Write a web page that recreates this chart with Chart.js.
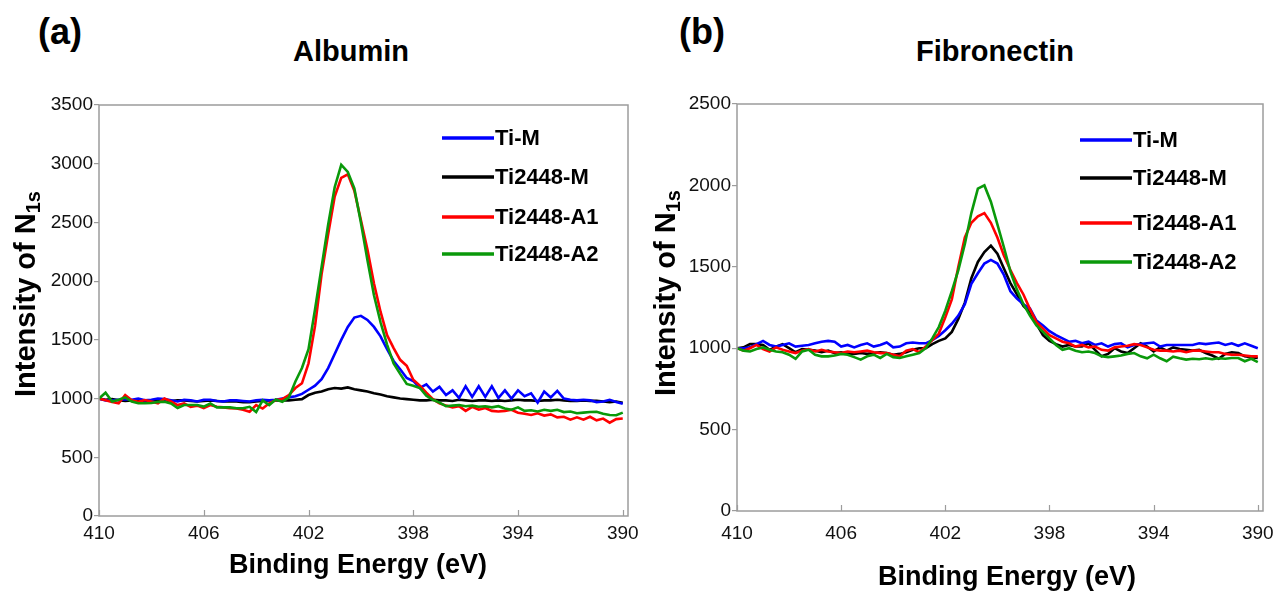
<!DOCTYPE html>
<html>
<head>
<meta charset="utf-8">
<script src="https://cdn.jsdelivr.net/npm/chart.js@4.4.1/dist/chart.umd.min.js"></script>
<style>
  body { margin: 0; background: #fff; width: 1277px; height: 592px; overflow: hidden; position: relative; font-family: 'Liberation Sans', Arial, sans-serif; }
  canvas { position: absolute; top: 0; }
  .lbl { position: absolute; font-weight: bold; color: #000; white-space: nowrap; line-height: 1; }
</style>
</head>
<body>
<div class="lbl" style="left:38px; top:14px; font-size:36px;">(a)</div>
<div class="lbl" style="left:351px; top:37px; font-size:29px; transform:translateX(-50%);">Albumin</div>
<div class="lbl" style="left:679px; top:14px; font-size:36px;">(b)</div>
<div class="lbl" style="left:995px; top:37px; font-size:29px; transform:translateX(-50%);">Fibronectin</div>
<canvas id="albumin" width="640" height="592" style="left:0"></canvas>
<canvas id="fibronectin" width="637" height="592" style="left:640px"></canvas>
<script>
// Energía de enlace (eV), paso de 0.25
const energies = [410, 409.75, 409.5, 409.25, 409, 408.75, 408.5, 408.25, 408, 407.75,
  407.5, 407.25, 407, 406.75, 406.5, 406.25, 406, 405.75, 405.5, 405.25,
  405, 404.75, 404.5, 404.25, 404, 403.75, 403.5, 403.25, 403, 402.75,
  402.5, 402.25, 402, 401.75, 401.5, 401.25, 401, 400.75, 400.5, 400.25,
  400, 399.75, 399.5, 399.25, 399, 398.75, 398.5, 398.25, 398, 397.75,
  397.5, 397.25, 397, 396.75, 396.5, 396.25, 396, 395.75, 395.5, 395.25,
  395, 394.75, 394.5, 394.25, 394, 393.75, 393.5, 393.25, 393, 392.75,
  392.5, 392.25, 392, 391.75, 391.5, 391.25, 391, 390.75, 390.5, 390.25, 390];

const seriesNames = ['Ti-M', 'Ti2448-M', 'Ti2448-A1', 'Ti2448-A2'];
const seriesColors = ['#0000ff', '#000000', '#ff0000', '#0a990a'];
const drawOrder = [3, 4, 2, 1];

const xTicks = [410, 406, 402, 398, 394, 390];
const yTicksAlbumin = [0, 500, 1000, 1500, 2000, 2500, 3000, 3500];
const yTicksFibronectin = [0, 500, 1000, 1500, 2000, 2500];

// Albumin (a)
const albuminTiM = [1000, 985, 985, 990, 995, 990, 1000, 985, 990, 1000,
  995, 985, 975, 990, 985, 975, 990, 990, 980, 975,
  985, 985, 980, 975, 985, 990, 985, 990, 1000, 1010,
  1020, 1040, 1075, 1110, 1165, 1260, 1380, 1500, 1610, 1690,
  1705, 1670, 1610, 1530, 1420, 1320, 1250, 1175, 1150, 1090,
  1120, 1060, 1100, 1030, 1070, 1005, 1105, 1015, 1105, 1015,
  1105, 1005, 1070, 1000, 1070, 1020, 1045, 965, 1060, 1010,
  1065, 1000, 990, 985, 990, 985, 970, 975, 990, 970, 955];
const albuminTi2448M = [1000, 990, 995, 985, 980, 985, 985, 980, 985, 980,
  985, 980, 985, 985, 980, 975, 980, 985, 980, 975,
  975, 975, 970, 970, 975, 980, 985, 985, 985, 985,
  990, 995, 1030, 1050, 1060, 1080, 1090, 1085, 1095, 1080,
  1070, 1060, 1045, 1035, 1020, 1010, 1000, 995, 990, 985,
  985, 990, 985, 985, 980, 990, 985, 980, 985, 985,
  980, 985, 980, 985, 990, 985, 985, 980, 985, 985,
  990, 985, 980, 980, 985, 980, 980, 975, 970, 975, 965];
const albuminA1 = [1000, 985, 970, 960, 1030, 985, 972, 988, 975, 960,
  1000, 975, 945, 960, 930, 940, 918, 945, 930, 925,
  918, 915, 905, 888, 945, 915, 960, 988, 995, 1030,
  1090, 1130, 1300, 1620, 2060, 2400, 2720, 2880, 2910, 2770,
  2520, 2270, 1980, 1740, 1540, 1430, 1330, 1280, 1160, 1110,
  1050, 995, 960, 940, 925, 935, 895, 930, 905, 920,
  895, 890, 895, 905, 880, 870, 860, 875, 855, 865,
  840, 845, 820, 840, 820, 845, 815, 830, 795, 825, 830];
const albuminA2 = [1000, 1050, 975, 990, 1010, 975, 960, 960, 962, 972,
  972, 958, 920, 945, 945, 945, 932, 958, 925, 925,
  925, 917, 917, 930, 885, 985, 945, 992, 972, 1010,
  1145, 1260, 1420, 1760, 2120, 2480, 2800, 2990, 2930, 2790,
  2500, 2180, 1880, 1650, 1460, 1300, 1210, 1125, 1110, 1090,
  1025, 990, 965, 935, 940, 945, 935, 940, 930, 935,
  925, 935, 915, 905, 925, 895, 900, 890, 905, 895,
  905, 885, 890, 875, 880, 885, 888, 870, 860, 858, 880];

// Fibronectin (b)
const fibronectinTiM = [1000, 1000, 1005, 1025, 1045, 1020, 1010, 1020, 1030, 1010,
  1015, 1020, 1030, 1040, 1045, 1040, 1010, 1020, 1005, 1020,
  1030, 1010, 1020, 1035, 1005, 1010, 1030, 1035, 1030, 1030,
  1050, 1075, 1110, 1150, 1200, 1270, 1395, 1460, 1520, 1542,
  1520, 1450, 1350, 1305, 1270, 1245, 1170, 1140, 1105, 1080,
  1060, 1040, 1045, 1030, 1040, 1020, 1030, 1010, 1025, 1030,
  1005, 1020, 1025, 1030, 1035, 1010, 1020, 1020, 1020, 1020,
  1020, 1030, 1025, 1030, 1035, 1020, 1030, 1015, 1030, 1015, 1000];
const fibronectinTi2448M = [1000, 1005, 1025, 1025, 1020, 990, 1010, 1025, 1000, 975,
  995, 990, 985, 975, 985, 970, 975, 965, 965, 970,
  965, 970, 975, 970, 960, 965, 975, 990, 1000, 1000,
  1025, 1045, 1060, 1100, 1180, 1280, 1430, 1530, 1590, 1630,
  1580, 1490, 1400, 1330, 1260, 1220, 1150, 1080, 1045, 1025,
  1010, 1020, 1010, 1010, 1030, 990, 950, 965, 1000, 980,
  970, 1000, 1030, 1010, 980, 1005, 985, 1005, 995, 990,
  985, 990, 970, 955, 935, 965, 975, 970, 950, 945, 940];
const fibronectinA1 = [1000, 985, 1000, 1020, 995, 980, 1005, 990, 980, 970,
  985, 995, 980, 990, 980, 975, 970, 980, 975, 980,
  985, 975, 970, 970, 960, 950, 985, 995, 975, 1010,
  1050, 1090, 1190, 1300, 1500, 1680, 1770, 1810, 1830, 1770,
  1680, 1570, 1480, 1400, 1330, 1240, 1160, 1120, 1080, 1060,
  1040, 1030, 1010, 1020, 1005, 1010, 990, 985, 1005, 1010,
  1015, 1025, 1020, 1005, 990, 985, 985, 980, 985, 975,
  985, 985, 980, 975, 975, 965, 960, 960, 955, 950, 950];
const fibronectinA2 = [1000, 985, 980, 995, 1005, 990, 980, 975, 960, 935,
  980, 990, 960, 950, 950, 955, 965, 960, 945, 930,
  950, 960, 940, 965, 945, 940, 950, 960, 970, 1000,
  1060, 1130, 1230, 1350, 1480, 1640, 1830, 1980, 2000, 1900,
  1760, 1620, 1470, 1360, 1270, 1200, 1140, 1100, 1060, 1020,
  990, 1000, 985, 975, 980, 970, 950, 945, 950, 955,
  965, 970, 950, 938, 960, 938, 920, 948, 938, 930,
  935, 932, 938, 932, 938, 935, 940, 940, 920, 935, 915];

const FONT = "'Liberation Sans', Arial, sans-serif";

// Plugin: marco, marcas internas del eje x, leyenda y títulos de ejes
const panelDeco = {
  id: 'panelDeco',
  afterDraw(chart, args, opts) {
    const ctx = chart.ctx;
    const a = chart.chartArea;
    ctx.save();

    // Marco gris
    ctx.strokeStyle = '#9c9c9c';
    ctx.lineWidth = 1.5;
    ctx.strokeRect(a.left, a.top, a.right - a.left, a.bottom - a.top);

    // Marcas hacia dentro en el eje x
    const xs = chart.scales.x;
    ctx.lineWidth = 1.2;
    xTicks.forEach(v => {
      const px = Math.round(xs.getPixelForValue(v)) + 0.5;
      ctx.beginPath();
      ctx.moveTo(px, a.bottom);
      ctx.lineTo(px, a.bottom - 6);
      ctx.stroke();
    });

    // Leyenda
    ctx.font = 'bold 22px ' + FONT;
    ctx.textBaseline = 'middle';
    ctx.textAlign = 'left';
    seriesNames.forEach((name, k) => {
      const y = opts.legendY[k];
      ctx.strokeStyle = seriesColors[k];
      ctx.lineWidth = 3.5;
      ctx.beginPath();
      ctx.moveTo(opts.legendX, y);
      ctx.lineTo(opts.legendX + 52, y);
      ctx.stroke();
      ctx.fillStyle = '#000';
      ctx.fillText(name, opts.legendX + 53, y + 1);
    });

    // Título eje x
    ctx.fillStyle = '#000';
    ctx.font = 'bold 27px ' + FONT;
    ctx.textAlign = 'center';
    ctx.textBaseline = 'middle';
    ctx.fillText('Binding Energy (eV)', opts.xTitle[0], opts.xTitle[1]);

    // Título eje y con subíndice
    const main = 'Intensity of N';
    const sub = '1s';
    ctx.translate(opts.yTitle[0], opts.yTitle[1]);
    ctx.rotate(-Math.PI / 2);
    ctx.font = 'bold 29px ' + FONT;
    const wMain = ctx.measureText(main).width;
    ctx.font = 'bold 20px ' + FONT;
    const wSub = ctx.measureText(sub).width;
    const start = -(wMain + wSub) / 2;
    ctx.textAlign = 'left';
    ctx.textBaseline = 'alphabetic';
    ctx.font = 'bold 29px ' + FONT;
    ctx.fillText(main, start, 0);
    ctx.font = 'bold 20px ' + FONT;
    ctx.fillText(sub, start + wMain, 5);

    ctx.restore();
  }
};

function buildChart(id, p) {
  const datasets = p.series.map((vals, k) => ({
    label: seriesNames[k],
    data: energies.map((e, i) => ({ x: e, y: vals[i] })),
    borderColor: seriesColors[k],
    borderWidth: 2.6,
    pointRadius: 0,
    tension: 0,
    fill: false,
    order: drawOrder[k]
  }));

  return new Chart(document.getElementById(id), {
    type: 'line',
    data: { datasets: datasets },
    options: {
      responsive: false,
      animation: false,
      layout: { padding: { left: 0, top: p.area.top, right: p.width - p.area.right, bottom: 0 } },
      scales: {
        x: {
          type: 'linear',
          reverse: true,
          min: 389.8,
          max: 410,
          afterFit: s => {
            s.height = 592 - p.area.bottom;
            s.paddingLeft = 0;
            s.paddingRight = 0;
          },
          afterBuildTicks: s => { s.ticks = xTicks.map(v => ({ value: v })); },
          grid: { display: false, drawTicks: false },
          border: { display: false },
          ticks: { padding: p.xPad, color: '#111', font: { family: FONT, size: 19 }, maxRotation: 0, autoSkip: false, callback: v => String(v) }
        },
        y: {
          min: 0,
          max: p.yMax,
          afterFit: s => {
            s.width = p.area.left;
            s.paddingTop = 0;
            s.paddingBottom = 0;
          },
          afterBuildTicks: s => { s.ticks = p.yTicks.map(v => ({ value: v })); },
          grid: { drawOnChartArea: false, drawTicks: true, tickLength: 5, color: '#9c9c9c', lineWidth: 1.2 },
          border: { display: false },
          ticks: { padding: 1, color: '#111', font: { family: FONT, size: 19 }, callback: v => String(v) }
        }
      },
      plugins: {
        legend: { display: false },
        tooltip: { enabled: false },
        panelDeco: { legendX: p.legendX, legendY: p.legendY, xTitle: p.xTitle, yTitle: p.yTitle }
      }
    },
    plugins: [panelDeco]
  });
}

buildChart('albumin', {
  series: [albuminTiM, albuminTi2448M, albuminA1, albuminA2],
  width: 640,
  area: { left: 99, top: 105, right: 628, bottom: 516 },
  yMax: 3500,
  yTicks: yTicksAlbumin,
  xPad: 6,
  legendX: 442,
  legendY: [138, 177, 217, 254],
  xTitle: [358, 566],
  yTitle: [35, 294]
});

buildChart('fibronectin', {
  series: [fibronectinTiM, fibronectinTi2448M, fibronectinA1, fibronectinA2],
  width: 637,
  area: { left: 97, top: 104, right: 623, bottom: 511 },
  yMax: 2500,
  yTicks: yTicksFibronectin,
  xPad: 11,
  legendX: 440,
  legendY: [140, 178, 223, 262],
  xTitle: [367, 578],
  yTitle: [35, 293]
});
</script>
</body>
</html>
